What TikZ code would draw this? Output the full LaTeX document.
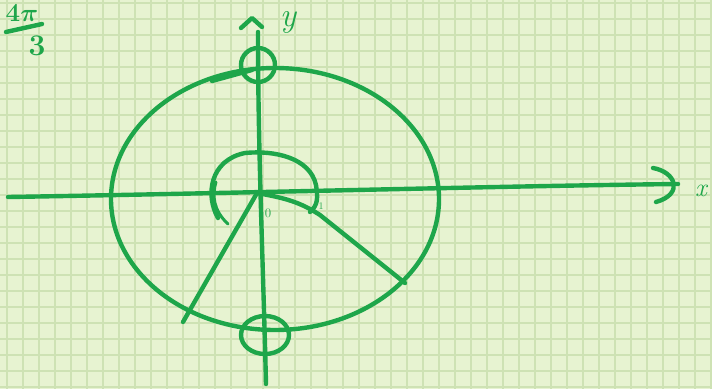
\documentclass[tikz,border=0pt]{standalone}
\usepackage{tikz}
\definecolor{paper}{RGB}{231,243,209}
\definecolor{gridc}{RGB}{206,226,180}
\definecolor{ink}{RGB}{30,166,74}
\tikzset{
  pen/.style={draw=ink, line width=4.4pt, line cap=round, line join=round},
  thinpen/.style={draw=ink, line width=3pt, line cap=round, line join=round},
  lbl/.style={text=ink, inner sep=0pt}
}
\begin{document}
\begin{tikzpicture}[x=1pt,y=-1pt]
\fill[paper] (0,0) rectangle (712,389);
\useasboundingbox (0,0) rectangle (712,389);
\foreach \i in {0,...,44} {\draw[gridc, line width=1.2pt] (7+16*\i,0) -- (7+16*\i,389);}
\foreach \j in {0,...,24} {\draw[gridc, line width=1.2pt] (0,3+16*\j) -- (712,3+16*\j);}
% axes
\draw[pen] (8,197) .. controls (250,193) and (500,186) .. (678,184);
\draw[pen] (653,168) .. controls (676,172) and (684,194) .. (656,202);
\draw[pen] (258,32) .. controls (258,150) and (263,260) .. (266,384);
% big circle
\draw[pen] (275,199) ellipse [x radius=164, y radius=131];
% small circles
\draw[pen] (258,65) circle [radius=17];
\draw[pen] (265,335) ellipse [x radius=24, y radius=19];
\draw[pen] (212,81) -- (252,70);
% inner arc
\draw[pen] (218,218) .. controls (205,195) and (210,160) .. (245,153)
  .. controls (275,150) and (310,158) .. (316,185) .. controls (318,198) and (318,205) .. (310,212);
\draw[thinpen] (228,224) .. controls (213,210) and (212,195) .. (216,182);
% radii
\draw[pen] (257,193) -- (183,322);
\draw[pen] (257,193) .. controls (285,198) and (300,202) .. (320,215) -- (405,283);
% labels
\draw[pen] (241,28) -- (252,18) -- (262,27);
\node[lbl, font=\fontsize{34}{34}\selectfont\itshape] (ylab) at (288,22) {y};
\node[lbl, font=\fontsize{26}{26}\selectfont\itshape] (xlab) at (701,191) {x};
\node[lbl, font=\fontsize{13}{13}\selectfont] (zero) at (268,213) {0};
\node[lbl, font=\fontsize{10}{10}\selectfont] (one) at (321,206) {1};
\node[lbl, font=\fontsize{26}{26}\selectfont\bfseries\boldmath] (fourpi) at (22,13) {4$\pi$};
\draw[pen] (6,32) -- (42,24);
\node[lbl, font=\fontsize{30}{30}\selectfont\bfseries] (three) at (37,46) {3};
\end{tikzpicture}
\end{document}
